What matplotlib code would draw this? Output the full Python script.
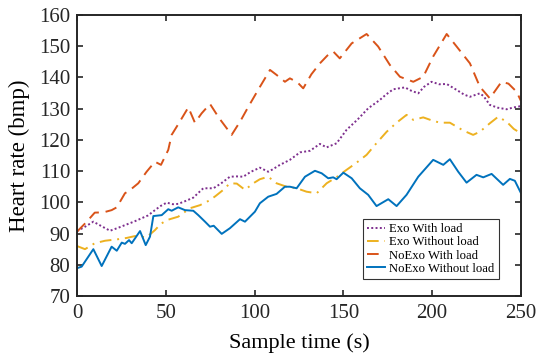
import matplotlib
matplotlib.use("Agg")
import numpy as np
import matplotlib.pyplot as plt

# values (sample time in s, heart rate in bpm)
t_exo_load = [0, 4, 9.2, 14, 18.6, 23, 27, 32, 36.4, 40, 43.9, 47, 50.5, 54, 57, 61, 65.5,
              71.1, 76.8, 81, 86.1, 90, 93.6, 98, 103, 107.7, 110, 114.3, 119.9, 125.6,
              131.2, 136.8, 140.6, 146.2, 151.8, 158, 164, 170.6, 174, 178.1, 184.7, 188,
              192.2, 195.5, 199.7, 204, 208.2, 213.8, 218, 221.3, 226.9, 229, 232.5, 237,
              242, 246, 250]
hr_exo_load = [90.8, 92, 93.8, 92.3, 90.9, 91.8, 92.7, 93.8, 94.9, 95.8, 97.5, 98.8, 99.9,
               99.4, 99.5, 100.4, 101.5, 104.5, 104.5, 106, 108.2, 108.3, 108.2, 109.8,
               111.1, 109.8, 110.5, 112, 113.6, 116, 116.5, 118.7, 117.6, 118.9, 123.2,
               126.5, 130.1, 132.8, 134.5, 136.2, 136.8, 135.8, 134.9, 137, 138.6, 137.8,
               137.9, 136, 134.5, 133.8, 134.9, 134, 131.2, 130.3, 129.8, 130.4, 130.8]

t_exo_noload = [0, 4.5, 10, 15.8, 23.3, 28, 32.7, 39.2, 43.9, 47, 50.5, 57, 63.6, 69.3, 74.9,
                78, 82.4, 86.1, 90, 94.6, 99.3, 103, 107.7, 112.4, 118, 123.7, 129.3, 135,
                140.6, 146, 151.8, 157, 163.1, 168, 174.4, 180, 185.6, 189.4, 195, 200,
                204.4, 210, 217.5, 223.1, 226.9, 232.5, 237.2, 242, 246, 250]
hr_exo_noload = [86, 85, 86.9, 87.7, 88.2, 88.6, 89.2, 88.8, 91.1, 93, 94.3, 95.4, 98.1, 99.1,
                 100.7, 102, 104, 106.1, 106, 104, 106.1, 107.4, 108.2, 106.1, 105, 104.5,
                 103.4, 102.9, 106.1, 108, 110.4, 112.5, 115.2, 118.5, 122.6, 125.5, 128,
                 126.4, 127.2, 126.2, 125.5, 125.5, 123, 121.6, 122.6, 125.3, 127.4, 125.8,
                 123.5, 122.1]

t_noexo_load = [0, 5, 10, 15, 19.5, 22.4, 27, 30, 34.5, 39.2, 43.9, 47.3, 51.4, 53.3, 57,
                62.7, 66.4, 70.2, 74.9, 80, 87.1, 92, 96.5, 102, 108.7, 112.4, 117.1, 119.9,
                124, 127.4, 132, 136.8, 141, 144.3, 148, 154.7, 163.1, 169.6, 176.2, 181.9,
                189.4, 195, 200.6, 208.2, 213.8, 221.3, 226.9, 232.5, 239.1, 243, 247.6, 250]
hr_noexo_load = [90.6, 93.5, 96.7, 96.8, 97.5, 98.4, 102.9, 104, 106.1, 109.8, 113, 112,
                 116.8, 121.6, 125, 130.4, 125.5, 128.5, 131.5, 127, 121.6, 126, 130.6, 136,
                 142.4, 140.8, 138.6, 139.7, 138.5, 136.5, 141, 144.5, 147, 148.3, 146.1,
                 150.9, 153.9, 149.9, 144, 140.2, 138.6, 140.2, 146.7, 153.9, 149.9, 144.5,
                 137, 133.3, 138.6, 138, 135.4, 132.5]

t_noexo_noload = [0, 2.6, 9.2, 13.9, 19.5, 22.4, 25.2, 27, 29.3, 30.8, 35.5, 38.7, 41.1, 43,
                  47.7, 51.4, 53.3, 57, 60.8, 65.5, 68.3, 72.1, 74.9, 77, 81.5, 86.1, 91.8,
                  94.6, 97.4, 100.2, 103, 107.7, 112.4, 117.1, 119.9, 123.7, 128.4, 134,
                  137.8, 141.5, 144.3, 146.2, 150, 154.7, 159.3, 164, 168.7, 175.3, 180,
                  185.6, 192.2, 200.6, 206.3, 210, 214.7, 219.4, 225, 228.8, 233.5, 240,
                  243.8, 246.6, 250]
hr_noexo_noload = [78.9, 79.4, 85, 79.6, 85.8, 84.5, 87.1, 86.7, 87.9, 86.9, 90.8, 86.3, 89,
                   95.6, 95.9, 97.8, 97.3, 98.4, 97.5, 97.3, 95.9, 93.8, 92.2, 92.5, 89.9,
                   91.7, 94.6, 93.8, 95.4, 97, 99.7, 101.8, 102.7, 105, 105, 104.5, 108.2,
                   110.1, 109.3, 107.7, 108, 107.4, 109.5, 107.7, 104.5, 102.4, 98.8, 101,
                   98.8, 102.4, 108.2, 113.6, 112, 113.8, 109.8, 106.3, 108.8, 108, 109.1,
                   105.6, 107.5, 106.9, 103]

labels = ["Exo With load", "Exo Without load", "NoExo With load", "NoExo Without load"]

plt.rcParams['font.family'] = ['Liberation Serif', 'DejaVu Serif']

fig = plt.figure(figsize=(5.37, 3.56), dpi=100)
ax = fig.add_axes([0.1434, 0.1685, 0.8266, 0.7895])

ax.plot(t_exo_load, hr_exo_load, color='#7E2F8E', lw=1.4, ls=(0, (1, 1.2)), label=labels[0])
ax.plot(t_exo_noload, hr_exo_noload, color='#EDB120', lw=1.4, ls=(0, (6, 3, 1, 3)), label=labels[1])
ax.plot(t_noexo_load, hr_noexo_load, color='#D95319', lw=1.4, ls=(0, (6, 3.5)), label=labels[2])
ax.plot(t_noexo_noload, hr_noexo_noload, color='#0072BD', lw=1.4, ls='-', label=labels[3])

ax.set_xlim(0, 250)
ax.set_ylim(70, 160)
ax.set_xticks(np.arange(0, 251, 50))
ax.set_yticks(np.arange(70, 161, 10))
ax.tick_params(direction='in', top=True, right=True, length=4, width=1.2,
               labelsize=15, colors='#262626')
ax.tick_params(axis='y', pad=5)
ax.tick_params(axis='x', pad=6)
for s in ax.spines.values():
    s.set_linewidth(1.4)
    s.set_color('#262626')

ax.set_xlabel("Sample time (s)", fontsize=16, labelpad=7)
ax.set_ylabel("Heart rate (bmp)", fontsize=16.5, labelpad=6)

leg = ax.legend(loc='lower right', bbox_to_anchor=(0.95, 0.059), fontsize=9.2,
                frameon=True, fancybox=False, handlelength=1.35, handletextpad=0.35,
                borderpad=0.35, labelspacing=0.1, borderaxespad=0)
leg.get_frame().set_edgecolor('black')
leg.get_frame().set_linewidth(0.8)

fig.savefig("out.png", dpi=100)
